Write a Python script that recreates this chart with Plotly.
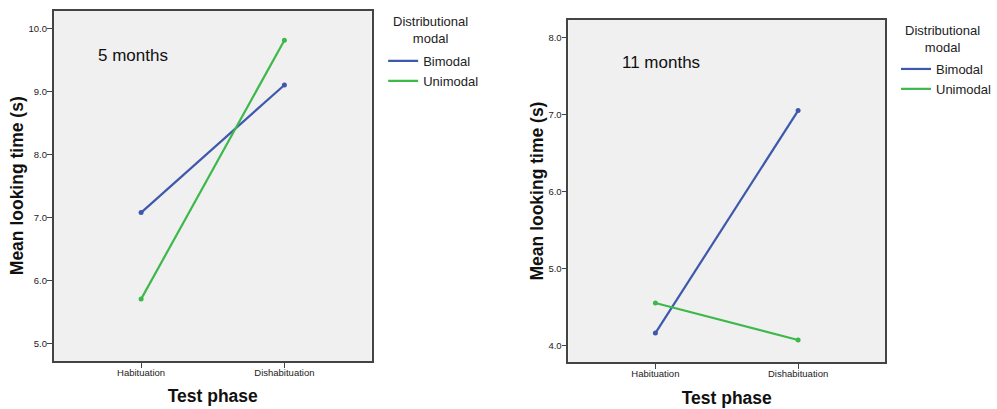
import plotly.graph_objects as go

# Mean looking time per test phase, by distributional condition
phases = ["Habituation", "Dishabituation"]
bimodal_5m = [7.08, 9.10]
unimodal_5m = [5.71, 9.81]
bimodal_11m = [4.16, 7.05]
unimodal_11m = [4.55, 4.07]

y_ticks_5m = [5.0, 6.0, 7.0, 8.0, 9.0, 10.0]
y_ticks_11m = [4.0, 5.0, 6.0, 7.0, 8.0]

BLUE = "#3E58AC"
GREEN = "#3DB84A"
W, H = 997, 409
FONT = "Liberation Sans, Arial, sans-serif"


def xdom(x0, x1):
    return [x0 / W, x1 / W]


def ydom(top, bottom):
    return [(H - bottom) / H, (H - top) / H]


fig = go.Figure()

panels = [
    ("x", "y", "legend", bimodal_5m, unimodal_5m),
    ("x2", "y2", "legend2", bimodal_11m, unimodal_11m),
]
for xa, ya, lg, bim, uni in panels:
    for name, vals, col in (("Bimodal", bim, BLUE), ("Unimodal", uni, GREEN)):
        # line (shown in legend)
        fig.add_trace(go.Scatter(
            x=phases, y=vals, name=name, xaxis=xa, yaxis=ya, legend=lg,
            mode="lines", line=dict(color=col, width=2.2),
        ))
        # point markers at each mean
        fig.add_trace(go.Scatter(
            x=phases, y=vals, name=name, xaxis=xa, yaxis=ya, legend=lg,
            mode="markers", marker=dict(color=col, size=5), showlegend=False,
        ))

axis_common = dict(
    showgrid=False, zeroline=False, showline=True, mirror=True,
    linecolor="#444444", linewidth=1.5,
    ticks="outside", ticklen=5, tickcolor="#444444", tickwidth=1,
    tickfont=dict(family=FONT, size=9.5, color="#222222"),
    title_font=dict(family=FONT, size=17.5, color="#111111"),
)
x_common = dict(range=[-0.61, 1.61], ticklabelstandoff=-3,
                title=dict(text="<b>Test phase</b>", standoff=13), **axis_common)
y_common = dict(ticklabelstandoff=-2,
                title=dict(text="<b>Mean looking time (s)</b>", standoff=0), **axis_common)

fig.update_layout(
    width=W, height=H, autosize=False,
    margin=dict(l=0, r=0, t=0, b=0),
    paper_bgcolor="white", plot_bgcolor="#F0F0F0",
    showlegend=True,
    xaxis=dict(domain=xdom(54.5, 377.5), **x_common),
    yaxis=dict(domain=ydom(10.5, 361), range=[4.73, 10.28],
               tickvals=y_ticks_5m, ticktext=[f"{v:.1f}" for v in y_ticks_5m], **y_common),
    xaxis2=dict(domain=xdom(577, 898.7), anchor="y2", **x_common),
    yaxis2=dict(domain=ydom(19.7, 362.3), range=[3.78, 8.23], anchor="x2",
                tickvals=y_ticks_11m, ticktext=[f"{v:.1f}" for v in y_ticks_11m], **y_common),
)

legend_common = dict(
    bgcolor="rgba(0,0,0,0)", borderwidth=0,
    font=dict(family=FONT, size=13, color="#222222"),
    itemwidth=30, tracegroupgap=0,
    xanchor="left", yanchor="top",
)
fig.update_layout(
    legend=dict(x=389 / W, y=(H - 46) / H, **legend_common),
    legend2=dict(x=910 / W, y=(H - 54) / H, **legend_common),
)

# legend headings, centred over each legend
for cx, cy in ((437, 30), (957, 39.5)):
    fig.add_annotation(text="Distributional<br>modal", xref="paper", yref="paper",
                       x=cx / W, y=(H - cy) / H, xanchor="center", yanchor="middle",
                       align="center", showarrow=False,
                       font=dict(family=FONT, size=13, color="#222222"))

fig.add_annotation(text="5 months", xref="paper", yref="paper",
                   x=97 / W, y=(H - 56) / H, xanchor="left", yanchor="middle",
                   showarrow=False, font=dict(family=FONT, size=17, color="#111111"))
fig.add_annotation(text="11 months", xref="paper", yref="paper",
                   x=629 / W, y=(H - 63) / H, xanchor="left", yanchor="middle",
                   showarrow=False, font=dict(family=FONT, size=17, color="#111111"))

fig.write_html("out.html")
